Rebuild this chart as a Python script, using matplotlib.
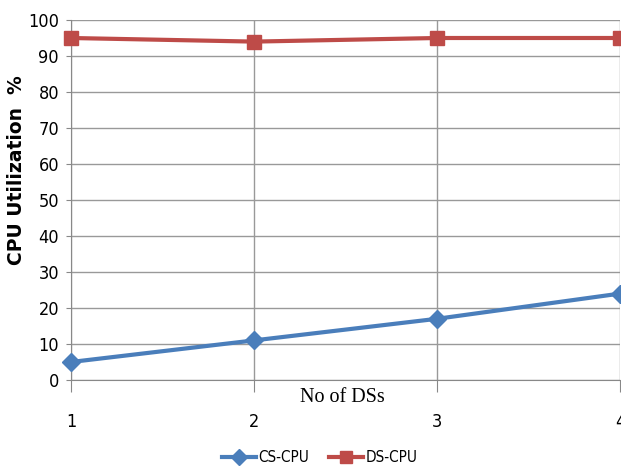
import matplotlib
matplotlib.use("Agg")
import matplotlib.pyplot as plt
from matplotlib.lines import Line2D

x_vals = [1, 2, 3, 4]
cs_cpu = [5, 11, 17, 24]
ds_cpu = [95, 94, 95, 95]
y_ticks = [0, 10, 20, 30, 40, 50, 60, 70, 80, 90, 100]

narrow = ['Liberation Sans Narrow', 'DejaVu Sans']

fig = plt.figure(figsize=(6.21, 4.68), dpi=100)
ax = fig.add_axes([71/621, 1-380/468, (620-71)/621, 360/468])

blue = '#4A7EBB'
red = '#BE4B48'
ax.plot(x_vals, cs_cpu, color=blue, lw=3, marker='D', ms=9, clip_on=False, zorder=5, label='CS-CPU')
ax.plot(x_vals, ds_cpu, color=red, lw=3, marker='s', ms=10, clip_on=False, zorder=5, label='DS-CPU')

ax.set_xlim(1, 4)
ax.set_ylim(0, 100)
ax.set_yticks(y_ticks)
ax.set_xticks(x_vals)
ax.grid(True, color='#999999', lw=1)
ax.set_axisbelow(True)
for s in ['top', 'right']:
    ax.spines[s].set_visible(False)
ax.spines['left'].set_color('#888888')
ax.spines['bottom'].set_color('#888888')
ax.tick_params(axis='y', length=3.6, color='#888888', pad=5)
ax.tick_params(axis='x', length=8.6, color='#888888', pad=15)
for lab in ax.get_yticklabels() + ax.get_xticklabels():
    lab.set_family(narrow)
    lab.set_fontsize(13)
    lab.set_fontstretch('condensed')

fig.text(342/621, 1-398/468, 'No of DSs', family=['Liberation Serif'], fontsize=14.5,
         ha='center', va='center')
fig.text(17/621, 1-170/468, 'CPU Utilization  %', family=['DejaVu Sans'], fontsize=13.5,
         fontweight='bold', rotation=90, ha='center', va='center')

leg = fig.legend(handles=[Line2D([], [], color=blue, lw=3, marker='D', ms=8),
                          Line2D([], [], color=red, lw=3, marker='s', ms=9)],
                 labels=['CS-CPU', 'DS-CPU'], loc='center', bbox_to_anchor=(320/621, 1-458/468),
                 ncol=2, frameon=False, handlelength=2.2, columnspacing=1.3, handletextpad=0.2,
                 prop={'family': narrow, 'size': 11, 'stretch': 'condensed'})

fig.savefig('out.png', dpi=100)
